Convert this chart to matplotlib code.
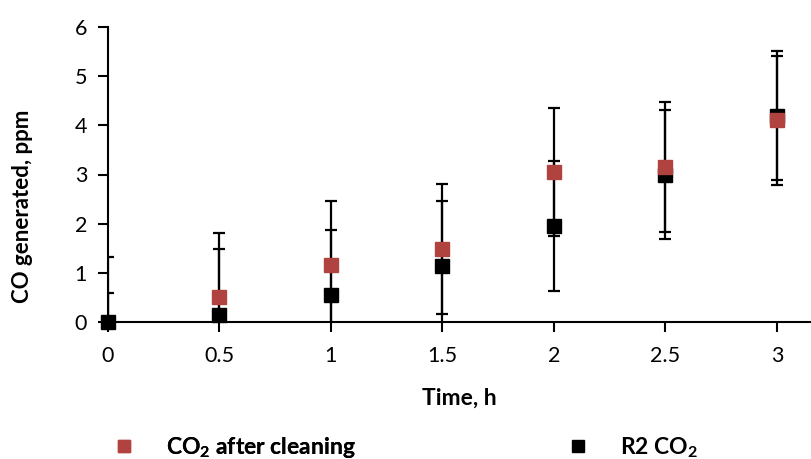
import matplotlib.pyplot as plt
from matplotlib.lines import Line2D

plt.rcParams['font.family'] = ['Lato', 'DejaVu Sans']
plt.rcParams['mathtext.fontset'] = 'custom'
plt.rcParams['mathtext.rm'] = 'Lato:bold'
plt.rcParams['mathtext.bf'] = 'Lato:bold'

# time, h
time_h = [0, 0.5, 1, 1.5, 2, 2.5, 3]

# CO2 after cleaning
after_cleaning = [0, 0.5, 1.15, 1.48, 3.05, 3.15, 4.1]
after_cleaning_err = [1.33, 1.32, 1.32, 1.32, 1.31, 1.32, 1.31]

# R2 CO2
r2_co2 = [0, 0.15, 0.55, 1.13, 1.95, 3.0, 4.2]
r2_co2_err = [0.6, 1.33, 1.33, 1.33, 1.32, 1.32, 1.31]

red = '#b0423f'

fig = plt.figure(figsize=(8.11, 4.59), dpi=100)
ax = fig.add_axes([108 / 811, 137 / 459, 703 / 811, 295 / 459])

# error bars first, markers on top
for y, err in [(after_cleaning, after_cleaning_err), (r2_co2, r2_co2_err)]:
    ax.errorbar(time_h, y, yerr=err, fmt='none', ecolor='black',
                elinewidth=1.6, capsize=4.5, capthick=1.6, zorder=2)

ax.plot(time_h, r2_co2, 's', color='black', markersize=10.5,
        clip_on=False, zorder=4)
ax.plot(time_h, after_cleaning, 's', color=red, markersize=10.5,
        markevery=slice(1, None), clip_on=False, zorder=5)

ax.set_xlim(0, 3.153)
ax.set_ylim(0, 6)
ax.set_xticks([0, 0.5, 1, 1.5, 2, 2.5, 3])
ax.set_xticklabels(['0', '0.5', '1', '1.5', '2', '2.5', '3'])
ax.set_yticks(range(0, 7))

for s in ['top', 'right']:
    ax.spines[s].set_visible(False)
for s in ['left', 'bottom']:
    ax.spines[s].set_linewidth(1.5)
    ax.spines[s].set_color('black')

ax.tick_params(axis='both', direction='out', length=7, width=1.5,
               labelsize=15.5)
ax.tick_params(axis='y', pad=8)
ax.tick_params(axis='x', pad=10)

ax.set_xlabel('Time, h', fontsize=16.5, fontweight='bold', labelpad=16)
ax.set_ylabel('CO generated, ppm', fontsize=16, fontweight='bold')
ax.yaxis.set_label_coords(-0.122, 0.393)
ax.yaxis.label.set_va('center')

# legend below, two entries spread wide
red_handle = Line2D([], [], marker='s', linestyle='none', color=red, markersize=8.6)
black_handle = Line2D([], [], marker='s', linestyle='none', color='black', markersize=8.6)
leg_kw = dict(loc='center left', frameon=False, borderpad=0, borderaxespad=0,
              handlelength=1.0, handletextpad=1.35,
              prop={'weight': 'bold', 'size': 16.5})
leg1 = fig.legend([red_handle], [r'CO$_2$ after cleaning'],
                  bbox_to_anchor=(112.5 / 811, 0.025), **leg_kw)
fig.add_artist(leg1)
fig.legend([black_handle], [r'R2 CO$_2$'],
           bbox_to_anchor=(566.5 / 811, 0.025), **leg_kw)

fig.savefig('out.png', dpi=100)
